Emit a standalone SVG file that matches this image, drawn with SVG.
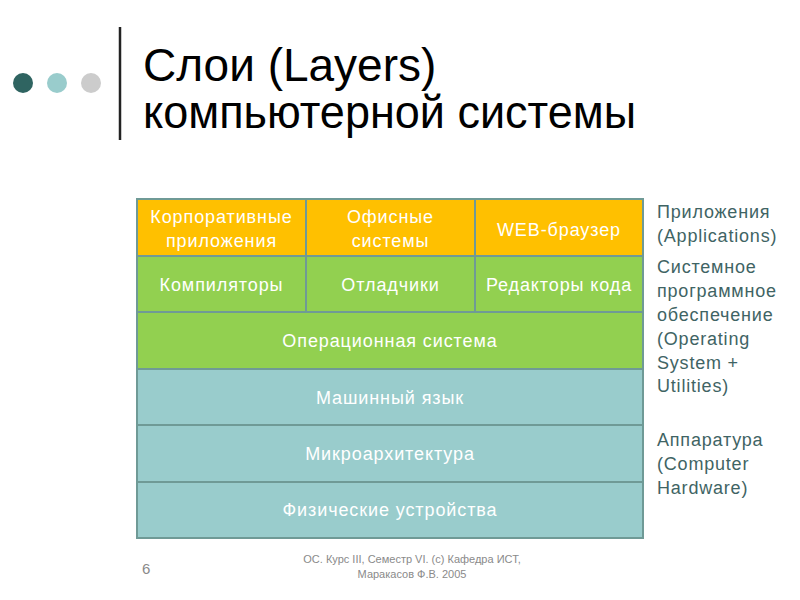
<svg xmlns="http://www.w3.org/2000/svg" width="800" height="600" viewBox="0 0 800 600">
<style>
text{font-family:"Liberation Sans",Arial,sans-serif}
.title{font-size:46px;fill:#000}
.cell{stroke:#6f9a96;stroke-width:2}
.app{fill:#ffc000}
.sys{fill:#92d050}
.hw{fill:#99cccc}
.ct{font-size:18px;letter-spacing:0.9px;fill:#fff;text-anchor:middle}
.side{font-size:18px;letter-spacing:0.8px;fill:#3f6464}
.foot{font-size:11px;fill:#8a8a8a;text-anchor:middle}
</style>
<rect width="800" height="600" fill="#fff"/>
<g id="bullets">
<circle cx="23" cy="83" r="10" fill="#2f6461"/>
<circle cx="57" cy="83" r="10" fill="#99cccc"/>
<circle cx="91" cy="83" r="10" fill="#cccccc"/>
<line x1="120" y1="27" x2="120" y2="140" stroke="#222" stroke-width="2.5"/>
</g>
<g id="title">
<text class="title" x="143" y="81">Слои (Layers)</text>
<text class="title" x="143" y="128" textLength="493" lengthAdjust="spacingAndGlyphs">компьютерной системы</text>
</g>
<g id="n-corp"><rect class="cell app" x="137" y="199" width="169" height="57"/><text class="ct" x="221.5" y="223">Корпоративные</text><text class="ct" x="221.5" y="247">приложения</text></g>
<g id="n-office"><rect class="cell app" x="306" y="199" width="169" height="57"/><text class="ct" x="390.5" y="223">Офисные</text><text class="ct" x="390.5" y="247">системы</text></g>
<g id="n-web"><rect class="cell app" x="475" y="199" width="168" height="57"/><text class="ct" x="559" y="236">WEB-браузер</text></g>
<g id="n-comp"><rect class="cell sys" x="137" y="256" width="169" height="56"/><text class="ct" x="221.5" y="291">Компиляторы</text></g>
<g id="n-debug"><rect class="cell sys" x="306" y="256" width="169" height="56"/><text class="ct" x="390.5" y="291">Отладчики</text></g>
<g id="n-edit"><rect class="cell sys" x="475" y="256" width="168" height="56"/><text class="ct" x="559" y="291">Редакторы кода</text></g>
<g id="n-os"><rect class="cell sys" x="137" y="312" width="506" height="57"/><text class="ct" x="390" y="347">Операционная система</text></g>
<g id="n-ml"><rect class="cell hw" x="137" y="369" width="506" height="56"/><text class="ct" x="390" y="404">Машинный язык</text></g>
<g id="n-micro"><rect class="cell hw" x="137" y="425" width="506" height="57"/><text class="ct" x="390" y="460">Микроархитектура</text></g>
<g id="n-phys"><rect class="cell hw" x="137" y="482" width="506" height="56"/><text class="ct" x="390" y="516">Физические устройства</text></g>
<g id="connectors"></g>
<g id="labels">
<text class="side" x="657" y="218">Приложения</text>
<text class="side" x="657" y="242">(Applications)</text>
<text class="side" x="657" y="273">Системное</text>
<text class="side" x="657" y="297">программное</text>
<text class="side" x="657" y="321">обеспечение</text>
<text class="side" x="657" y="345">(Operating</text>
<text class="side" x="657" y="369">System +</text>
<text class="side" x="657" y="392">Utilities)</text>
<text class="side" x="657" y="446">Аппаратура</text>
<text class="side" x="657" y="470">(Computer</text>
<text class="side" x="657" y="494">Hardware)</text>
</g>
<g id="footer">
<text x="142" y="574" font-size="15" fill="#8a8a8a">6</text>
<text class="foot" x="412" y="563">ОС. Курс III, Семестр VI. (c) Кафедра ИСТ,</text>
<text class="foot" x="412" y="578">Маракасов Ф.В. 2005</text>
</g>
</svg>
